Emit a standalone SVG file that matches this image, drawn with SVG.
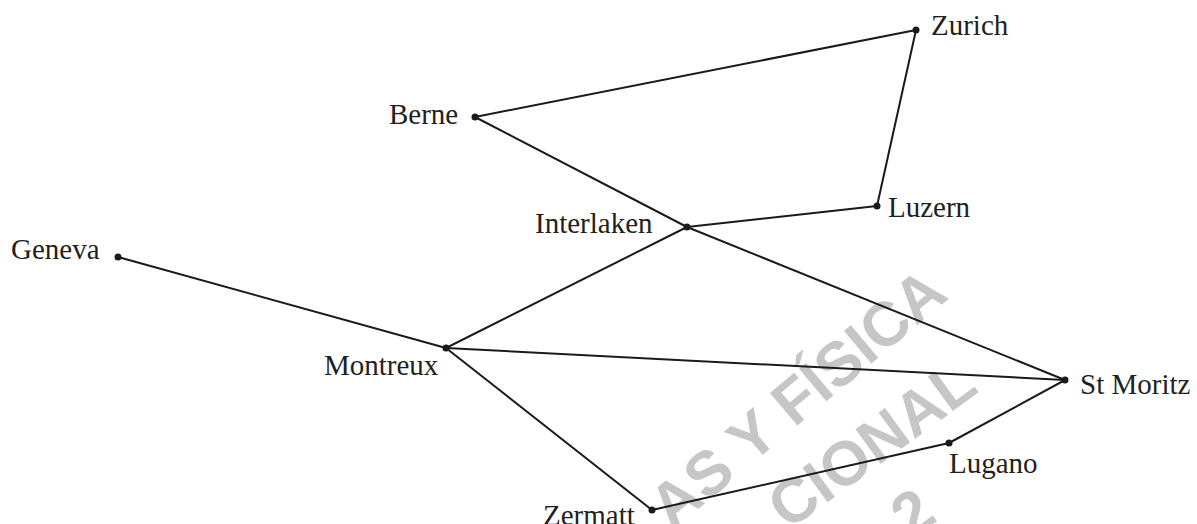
<svg xmlns="http://www.w3.org/2000/svg" width="1197" height="524" viewBox="0 0 1197 524">
<style>
.wm{font-family:"Liberation Sans",Arial,sans-serif;font-weight:bold;font-size:62px;fill:#c6c6c6}
.edge{stroke:#1a1a1a;stroke-width:2;fill:none}
.dot{fill:#1a1a1a}
.lbl{font-family:"Liberation Serif","Times New Roman",serif;font-size:29px;fill:#231f20}
</style>
<rect width="1197" height="524" fill="#fff"/>
<g id="watermark">
<text class="wm" transform="translate(672,531) rotate(-40)">AS Y FÍSICA</text>
<text class="wm" transform="translate(788,531) rotate(-36)">CIONAL</text>
<text class="wm" transform="translate(911,540) rotate(-36)">2</text>
</g>
<g id="connectors">
<line class="edge" x1="475" y1="117" x2="916" y2="30"/>
<line class="edge" x1="916" y1="30" x2="877" y2="206"/>
<line class="edge" x1="877" y1="206" x2="687" y2="227"/>
<line class="edge" x1="475" y1="117" x2="687" y2="227"/>
<line class="edge" x1="687" y1="227" x2="1065" y2="380"/>
<line class="edge" x1="118" y1="257" x2="446" y2="348"/>
<line class="edge" x1="446" y1="348" x2="687" y2="227"/>
<line class="edge" x1="446" y1="348" x2="1065" y2="380"/>
<line class="edge" x1="446" y1="348" x2="652" y2="510"/>
<line class="edge" x1="652" y1="510" x2="949" y2="443"/>
<line class="edge" x1="949" y1="443" x2="1065" y2="380"/>
</g>
<g id="zurich"><circle class="dot" cx="916" cy="30" r="3.5"/><text class="lbl" x="931" y="35">Zurich</text></g>
<g id="berne"><circle class="dot" cx="475" cy="117" r="3.5"/><text class="lbl" x="389" y="124">Berne</text></g>
<g id="interlaken"><circle class="dot" cx="687" cy="227" r="3.5"/><text class="lbl" x="535" y="233">Interlaken</text></g>
<g id="luzern"><circle class="dot" cx="877" cy="206" r="3.5"/><text class="lbl" x="888" y="217">Luzern</text></g>
<g id="geneva"><circle class="dot" cx="118" cy="257" r="3.5"/><text class="lbl" x="11" y="259">Geneva</text></g>
<g id="montreux"><circle class="dot" cx="446" cy="348" r="3.5"/><text class="lbl" x="324" y="375">Montreux</text></g>
<g id="stmoritz"><circle class="dot" cx="1065" cy="380" r="3.5"/><text class="lbl" x="1080" y="394">St Moritz</text></g>
<g id="lugano"><circle class="dot" cx="949" cy="443" r="3.5"/><text class="lbl" x="949" y="473">Lugano</text></g>
<g id="zermatt"><circle class="dot" cx="652" cy="510" r="3.5"/><text class="lbl" x="543" y="525">Zermatt</text></g>
</svg>
